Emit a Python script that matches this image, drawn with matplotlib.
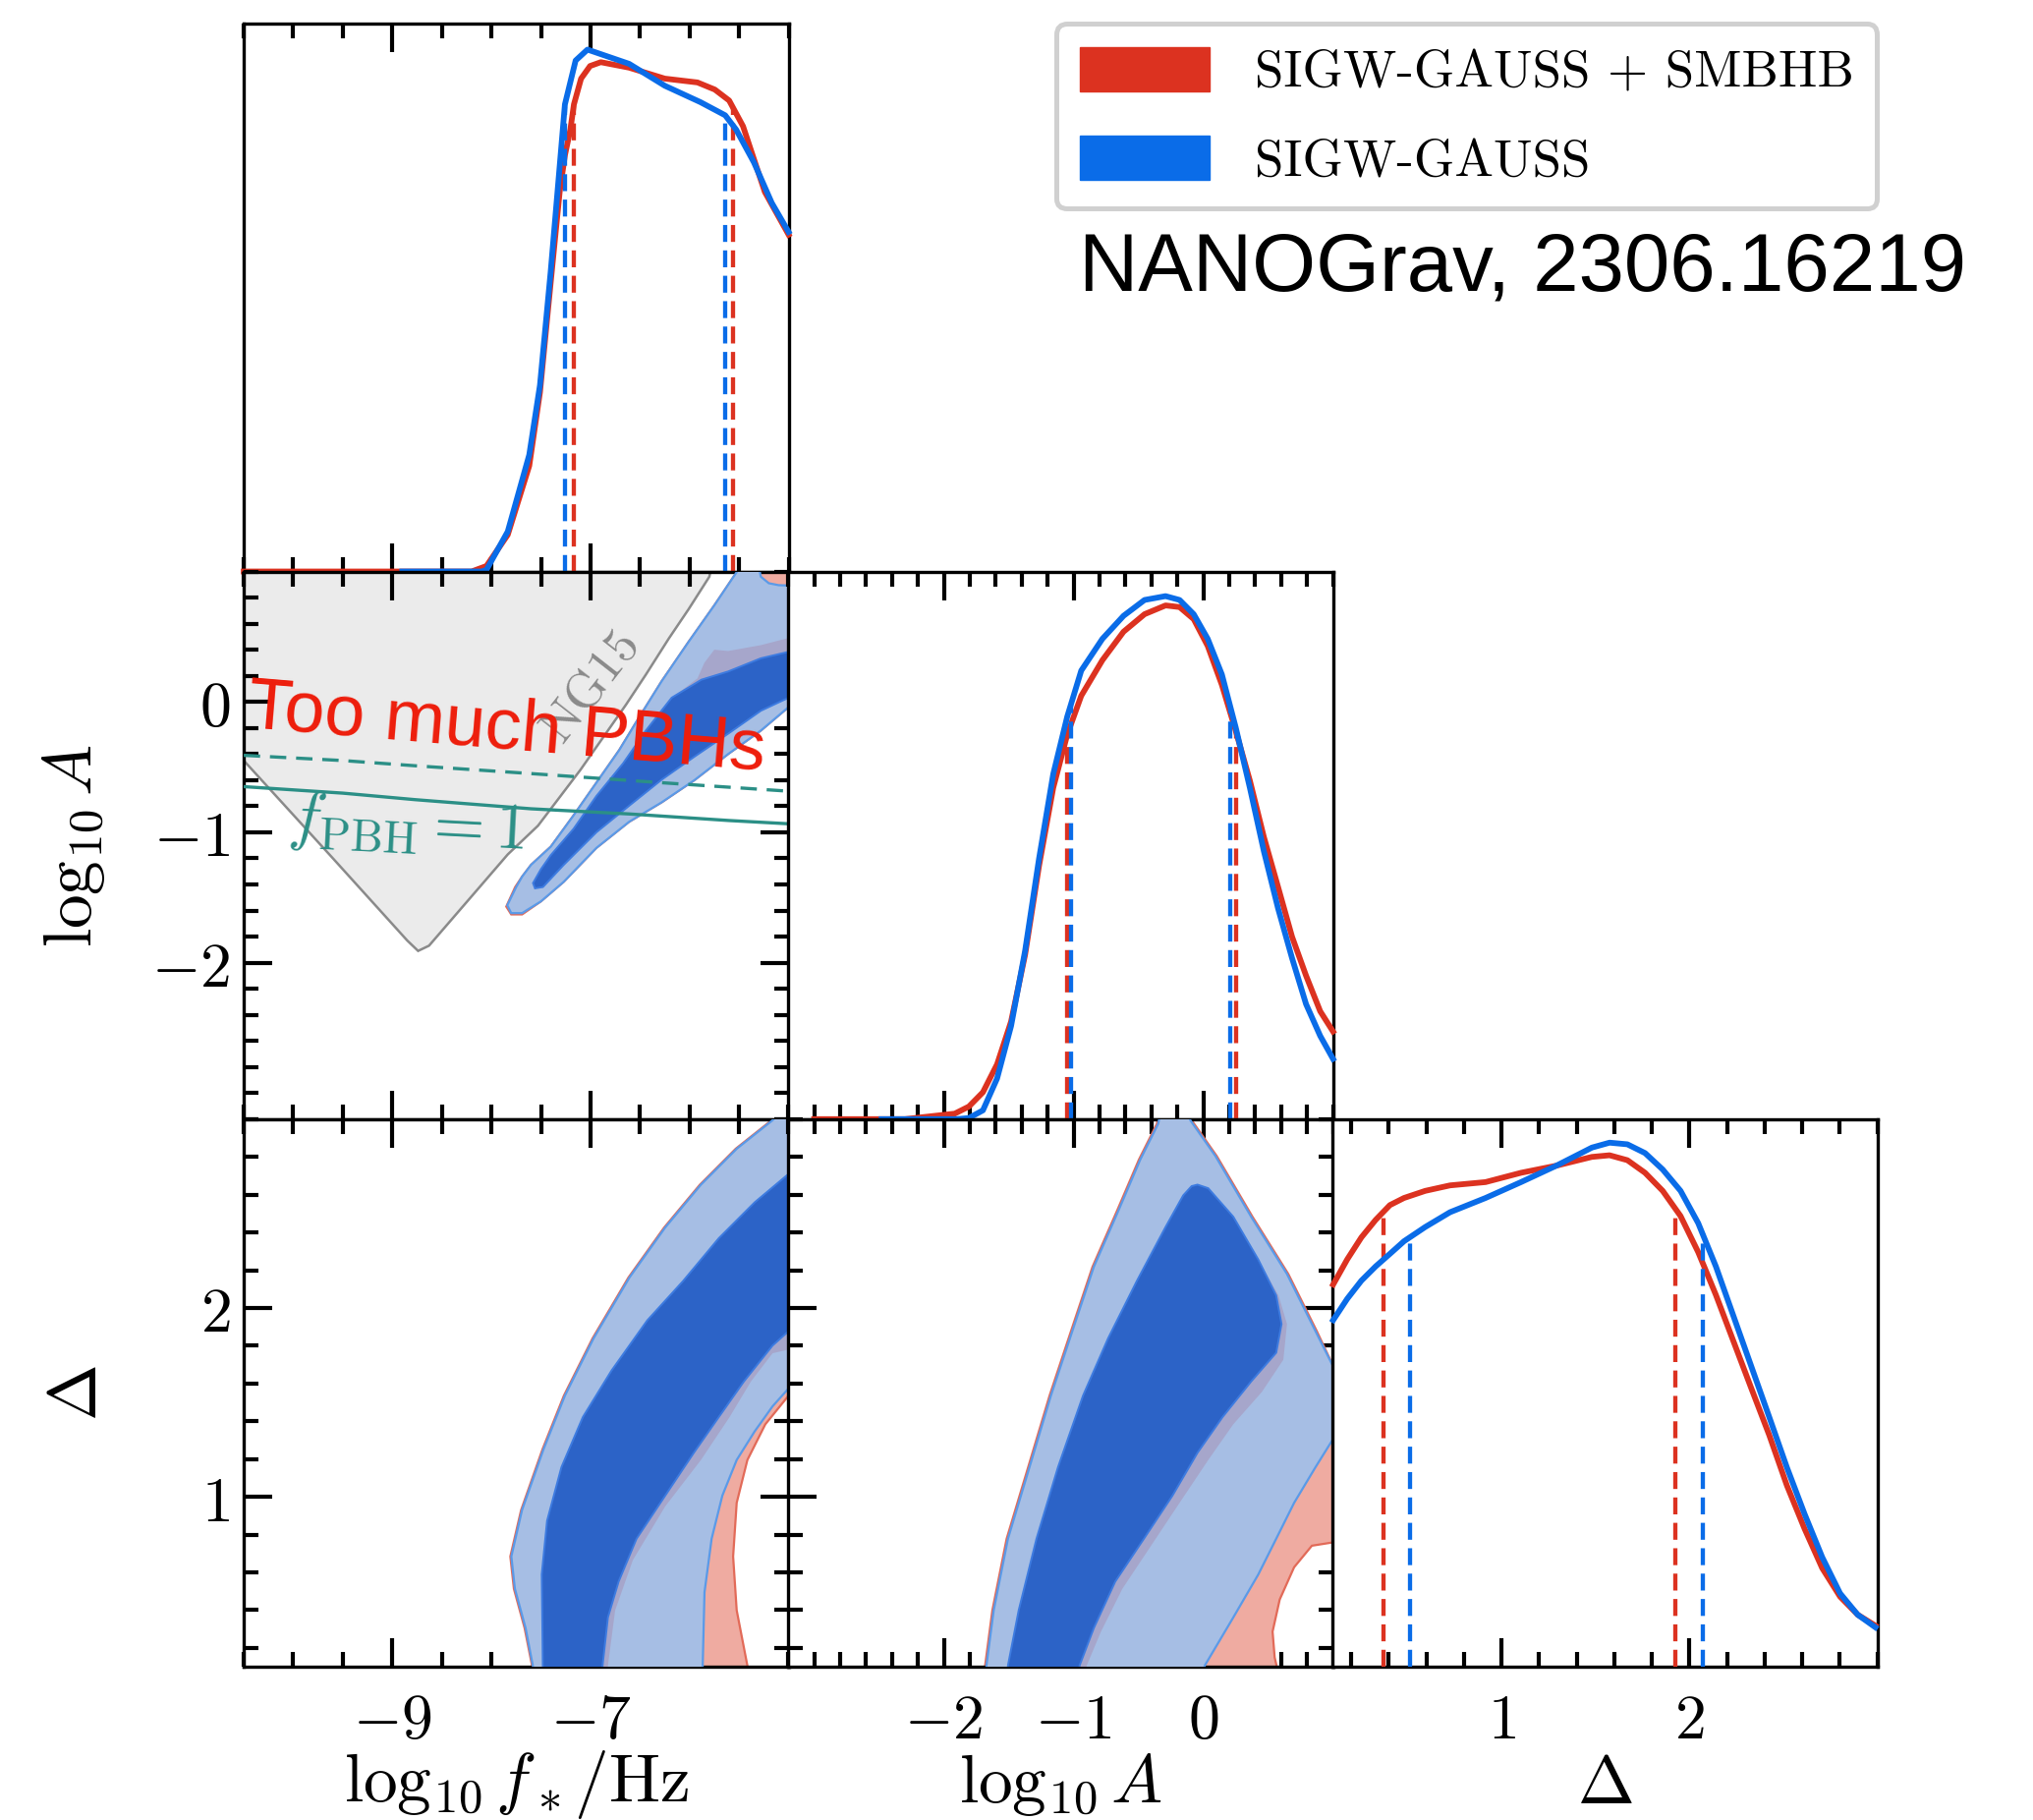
import matplotlib
matplotlib.use('Agg')
import matplotlib.pyplot as plt
import numpy as np
from matplotlib.patches import Patch, Polygon
from matplotlib.ticker import MultipleLocator

plt.rcParams['mathtext.fontset'] = 'cm'
plt.rcParams['font.family'] = ['DejaVu Sans']

RED = '#dc3220'
BLUE = '#0a6ce8'
TEAL = '#2b8f86'

# parameter ranges
F_LIM = (-10.5, -5.0)
A_LIM = (-3.2, 1.0)
D_LIM = (0.1, 3.0)

# 1D marginals (normalised heights)
f_red_x = [-10.5, -8.2, -8.05, -7.835, -7.618, -7.51, -7.402, -7.311, -7.258, -7.203, -7.167,
           -7.095, -7.004, -6.896, -6.61, -6.25, -5.92, -5.745, -5.60, -5.46, -5.24, -5.0]
f_red_y = [0.0, 0.0, 0.01, 0.067, 0.193, 0.327, 0.527, 0.693, 0.76, 0.807, 0.853,
           0.90, 0.923, 0.93, 0.92, 0.90, 0.893, 0.88, 0.86, 0.813, 0.693, 0.615]
f_blue_x = [-8.9, -8.1, -8.05, -7.835, -7.618, -7.51, -7.402, -7.311, -7.258, -7.15, -7.03,
            -6.61, -6.25, -5.89, -5.64, -5.53, -5.35, -5.17, -5.0]
f_blue_y = [0.0, 0.0, 0.003, 0.073, 0.213, 0.34, 0.547, 0.74, 0.853, 0.933, 0.953,
            0.927, 0.887, 0.857, 0.833, 0.807, 0.747, 0.673, 0.62]
f_red_bounds = [-7.17, -5.56]
f_blue_bounds = [-7.26, -5.64]

a_red_x = [-3.0, -2.3, -1.916, -1.807, -1.699, -1.59, -1.482, -1.374, -1.266, -1.157, -1.049,
           -0.941, -0.778, -0.615, -0.453, -0.291, -0.183, -0.074, 0.034, 0.143, 0.25, 0.359,
           0.467, 0.576, 0.684, 0.792, 0.901, 1.0]
a_red_y = [0.0, 0.0, 0.01, 0.023, 0.049, 0.10, 0.178, 0.30, 0.463, 0.605, 0.702,
           0.773, 0.838, 0.89, 0.922, 0.938, 0.935, 0.913, 0.864, 0.793, 0.709, 0.618,
           0.515, 0.424, 0.333, 0.262, 0.197, 0.16]
a_blue_x = [-2.48, -1.9, -1.807, -1.699, -1.59, -1.482, -1.374, -1.266, -1.157, -1.049, -0.941,
            -0.778, -0.615, -0.453, -0.291, -0.183, -0.074, 0.034, 0.143, 0.25, 0.359, 0.467,
            0.576, 0.684, 0.792, 0.901, 1.0]
a_blue_y = [0.0, 0.0, 0.002, 0.016, 0.074, 0.17, 0.307, 0.476, 0.63, 0.735, 0.819,
            0.877, 0.919, 0.948, 0.955, 0.948, 0.922, 0.877, 0.812, 0.715, 0.605, 0.489,
            0.385, 0.294, 0.21, 0.152, 0.11]
a_red_bounds = [-1.049, 0.25]
a_blue_bounds = [-1.022, 0.21]

d_x = [0.104, 0.179, 0.254, 0.330, 0.406, 0.481, 0.594, 0.726, 0.915, 1.104, 1.292, 1.481,
       1.575, 1.670, 1.764, 1.858, 1.953, 2.047, 2.141, 2.236, 2.330, 2.425, 2.519, 2.613,
       2.707, 2.802, 2.896, 2.99]
d_red_y = [0.698, 0.744, 0.784, 0.816, 0.843, 0.856, 0.869, 0.879, 0.885, 0.902, 0.915, 0.931,
           0.934, 0.925, 0.902, 0.869, 0.823, 0.757, 0.679, 0.593, 0.508, 0.423, 0.331, 0.252,
           0.18, 0.128, 0.095, 0.075]
d_blue_y = [0.633, 0.672, 0.705, 0.731, 0.754, 0.777, 0.803, 0.830, 0.856, 0.885, 0.915, 0.948,
            0.957, 0.954, 0.938, 0.908, 0.869, 0.810, 0.731, 0.639, 0.548, 0.456, 0.364, 0.279,
            0.20, 0.134, 0.095, 0.072]
d_red_bounds = [0.373, 1.925]
d_blue_bounds = [0.513, 2.07]

# 2D credible regions (outer = 95%, inner = 68%)
fA_ng15 = [(-10.6, 1.1), (-10.6, -0.37), (-10.5, -0.45), (-9.6, -1.20), (-8.85, -1.83),
           (-8.74, -1.91), (-8.63, -1.87), (-7.835, -1.17), (-7.53, -0.95), (-7.30, -0.72),
           (-7.10, -0.52), (-6.87, -0.27), (-6.64, -0.02), (-6.44, 0.21), (-6.21, 0.485),
           (-6.01, 0.71), (-5.80, 0.96), (-5.76, 1.1)]
fA_red_outer = [(-7.85, -1.57), (-7.76, -1.42), (-7.69, -1.34), (-7.60, -1.25), (-7.40, -1.11),
                (-7.17, -0.87), (-6.94, -0.62), (-6.71, -0.37), (-6.51, -0.12), (-6.28, 0.16),
                (-6.01, 0.46), (-5.75, 0.74), (-5.52, 1.00), (-5.45, 1.10), (-4.9, 1.10),
                (-4.9, -0.03), (-5.0, -0.04), (-5.28, -0.22), (-5.61, -0.40), (-5.95, -0.60),
                (-6.28, -0.77), (-6.61, -0.92), (-6.94, -1.12), (-7.27, -1.38), (-7.50, -1.53),
                (-7.69, -1.63), (-7.80, -1.63)]
fA_blue_outer = [(-7.84, -1.56), (-7.75, -1.42), (-7.69, -1.34), (-7.60, -1.25), (-7.40, -1.11),
                 (-7.17, -0.87), (-6.94, -0.62), (-6.71, -0.37), (-6.51, -0.12), (-6.28, 0.16),
                 (-6.01, 0.46), (-5.75, 0.74), (-5.52, 1.00), (-5.45, 1.10), (-5.32, 1.10),
                 (-5.28, 0.96), (-5.20, 0.91), (-5.10, 0.895), (-4.9, 0.89), (-4.9, -0.03),
                 (-5.0, -0.04), (-5.28, -0.22), (-5.61, -0.40), (-5.95, -0.60), (-6.28, -0.77),
                 (-6.61, -0.92), (-6.94, -1.12), (-7.27, -1.38), (-7.50, -1.53), (-7.69, -1.62),
                 (-7.80, -1.62)]
fA_red_inner = [(-4.9, 0.50), (-5.0, 0.49), (-5.28, 0.435), (-5.61, 0.39), (-5.75, 0.40),
                (-5.85, 0.30), (-5.92, 0.18), (-6.18, 0.03), (-6.44, -0.22), (-6.67, -0.47),
                (-6.94, -0.72), (-7.17, -0.97), (-7.40, -1.175), (-7.50, -1.28), (-7.58, -1.39),
                (-7.56, -1.43), (-7.48, -1.42), (-7.27, -1.25), (-6.94, -1.0), (-6.61, -0.80),
                (-6.28, -0.60), (-5.95, -0.42), (-5.61, -0.245), (-5.28, -0.07), (-5.0, 0.03),
                (-4.9, 0.04)]
fA_blue_inner = [(-4.9, 0.39), (-5.0, 0.384), (-5.28, 0.334), (-5.61, 0.233), (-5.88, 0.17),
                 (-6.18, 0.032), (-6.44, -0.219), (-6.67, -0.471), (-6.94, -0.722), (-7.17, -0.973),
                 (-7.40, -1.175), (-7.50, -1.283), (-7.58, -1.39), (-7.56, -1.43), (-7.48, -1.42),
                 (-7.27, -1.25), (-6.94, -1.0), (-6.61, -0.797), (-6.28, -0.596), (-5.95, -0.42),
                 (-5.61, -0.244), (-5.28, -0.068), (-5.0, 0.032), (-4.9, 0.035)]
fpbh1_x = [-10.5, -9.5, -8.77, -7.6, -6.6, -5.6, -5.0]
fpbh1_y = [-0.65, -0.70, -0.75, -0.82, -0.86, -0.91, -0.935]
fpbh_lim_x = [-10.5, -9.5, -8.77, -7.6, -6.28, -5.0]
fpbh_lim_y = [-0.41, -0.45, -0.49, -0.55, -0.62, -0.685]

fD_red_outer = [(-7.58, 0.0), (-7.59, 0.106), (-7.665, 0.305), (-7.773, 0.513), (-7.809, 0.684),
                (-7.70, 0.93), (-7.484, 1.252), (-7.268, 1.536), (-6.979, 1.839), (-6.617, 2.161),
                (-6.256, 2.426), (-5.895, 2.653), (-5.534, 2.843), (-5.172, 2.994), (-4.9, 3.15),
                (-4.9, 1.55), (-5.0, 1.536), (-5.235, 1.384), (-5.416, 1.195), (-5.524, 0.968),
                (-5.56, 0.684), (-5.524, 0.399), (-5.416, 0.106), (-5.40, 0.0)]
fD_blue_outer = [(-7.58, 0.0), (-7.582, 0.106), (-7.655, 0.305), (-7.763, 0.513), (-7.799, 0.684),
                 (-7.691, 0.93), (-7.474, 1.252), (-7.258, 1.536), (-6.969, 1.839), (-6.607, 2.161),
                 (-6.246, 2.426), (-5.885, 2.653), (-5.524, 2.843), (-5.162, 2.994), (-4.9, 3.15),
                 (-4.9, 1.60), (-5.0, 1.574), (-5.162, 1.479), (-5.343, 1.346), (-5.524, 1.195),
                 (-5.669, 1.006), (-5.777, 0.778), (-5.849, 0.494), (-5.867, 0.106), (-5.87, 0.0)]
fD_red_inner = [(-7.48, 0.0), (-7.481, 0.106), (-7.492, 0.589), (-7.438, 0.873), (-7.293, 1.157),
                (-7.077, 1.422), (-6.788, 1.668), (-6.427, 1.934), (-6.066, 2.142), (-5.705, 2.369),
                (-5.343, 2.559), (-5.0, 2.71), (-4.9, 2.76), (-4.9, 1.78), (-5.0, 1.78),
                (-5.162, 1.76), (-5.38, 1.611), (-5.596, 1.422), (-5.885, 1.195), (-6.246, 0.949),
                (-6.572, 0.665), (-6.751, 0.399), (-6.824, 0.106), (-6.83, 0.0)]
fD_blue_inner = [(-7.48, 0.0), (-7.481, 0.106), (-7.492, 0.589), (-7.438, 0.873), (-7.293, 1.157),
                 (-7.077, 1.422), (-6.788, 1.668), (-6.427, 1.934), (-6.066, 2.142), (-5.705, 2.369),
                 (-5.343, 2.559), (-5.0, 2.71), (-4.9, 2.76), (-4.9, 1.90), (-5.0, 1.877),
                 (-5.162, 1.801), (-5.451, 1.611), (-5.705, 1.422), (-5.957, 1.233), (-6.246, 1.006),
                 (-6.535, 0.778), (-6.716, 0.551), (-6.824, 0.361), (-6.878, 0.106), (-6.88, 0.0)]

AD_red_outer = [(-1.69, 0.0), (-1.682, 0.106), (-1.626, 0.399), (-1.516, 0.778), (-1.35, 1.157),
                (-1.185, 1.536), (-1.02, 1.877), (-0.854, 2.218), (-0.661, 2.521), (-0.496, 2.786),
                (-0.358, 2.975), (-0.32, 3.1), (-0.11, 3.1), (-0.09, 2.994), (0.103, 2.805),
                (0.379, 2.483), (0.655, 2.18), (0.875, 1.877), (1.003, 1.69), (1.1, 1.62),
                (1.1, 0.75), (1.003, 0.759), (0.837, 0.741), (0.70, 0.627), (0.589, 0.456),
                (0.534, 0.286), (0.55, 0.15), (0.60, 0.0)]
AD_blue_outer = [(-1.68, 0.0), (-1.672, 0.106), (-1.616, 0.399), (-1.506, 0.778), (-1.34, 1.157),
                 (-1.175, 1.536), (-1.01, 1.877), (-0.844, 2.218), (-0.651, 2.521), (-0.486, 2.786),
                 (-0.348, 2.975), (-0.31, 3.1), (-0.12, 3.1), (-0.1, 2.994), (0.093, 2.805),
                 (0.369, 2.483), (0.645, 2.18), (0.865, 1.877), (1.003, 1.6875), (1.1, 1.62),
                 (1.1, 1.30), (1.003, 1.309), (0.865, 1.157), (0.70, 0.968), (0.562, 0.778),
                 (0.424, 0.589), (0.231, 0.361), (0.011, 0.106), (0.0, 0.0)]
AD_red_inner = [(-1.51, 0.0), (-1.506, 0.106), (-1.423, 0.399), (-1.286, 0.778), (-1.12, 1.157),
                (-0.927, 1.536), (-0.734, 1.839), (-0.513, 2.142), (-0.293, 2.426), (-0.155, 2.596),
                (-0.09, 2.645), (-0.045, 2.653), (0.038, 2.634), (0.231, 2.483), (0.424, 2.256),
                (0.58, 2.066), (0.645, 1.915), (0.617, 1.726), (0.451, 1.555), (0.231, 1.384),
                (0.038, 1.195), (-0.183, 0.968), (-0.403, 0.741), (-0.624, 0.513), (-0.789, 0.286),
                (-0.899, 0.106), (-0.91, 0.0)]
AD_blue_inner = [(-1.51, 0.0), (-1.506, 0.106), (-1.423, 0.399), (-1.286, 0.778), (-1.12, 1.157),
                 (-0.927, 1.536), (-0.734, 1.839), (-0.513, 2.142), (-0.293, 2.426), (-0.155, 2.596),
                 (-0.09, 2.645), (-0.045, 2.653), (0.038, 2.634), (0.231, 2.483), (0.424, 2.256),
                 (0.562, 2.066), (0.603, 1.915), (0.562, 1.763), (0.369, 1.611), (0.148, 1.422),
                 (-0.045, 1.233), (-0.238, 1.006), (-0.458, 0.778), (-0.679, 0.551), (-0.844, 0.305),
                 (-0.954, 0.106), (-0.96, 0.0)]

LEGEND_LABELS = ['SIGW-GAUSS + SMBHB', 'SIGW-GAUSS']

C_RED_OUT, C_RED_IN = '#efaba1', '#a6a6cb'
C_BLUE_OUT, C_BLUE_IN = '#a6bee4', '#2c63c7'

TICK_FS = 46
LABEL_FS = 50


def style_axis(ax, twod=True):
    ax.tick_params(which='both', direction='in', top=True, bottom=True,
                   left=twod, right=twod, labelbottom=False, labelleft=False)
    ax.tick_params(which='major', length=21, width=3, labelsize=TICK_FS)
    ax.tick_params(which='minor', length=11, width=3)
    ax.tick_params(axis='x', which='major', pad=17)
    ax.tick_params(axis='y', which='major', pad=10)
    for sp in ax.spines.values():
        sp.set_linewidth(2.4)


def set_xgrid(ax, lim, majors):
    ax.set_xlim(*lim)
    ax.set_xticks(majors)
    ax.xaxis.set_minor_locator(MultipleLocator(0.5 if lim == F_LIM else 0.2))


def set_ygrid(ax, lim, majors):
    ax.set_ylim(*lim)
    ax.set_yticks(majors)
    ax.yaxis.set_minor_locator(MultipleLocator(0.2))


def draw_1d(ax, xr, yr, xb, yb, rb, bb):
    ax.plot(xr, yr, color=RED, lw=4.2, clip_on=False, zorder=3, solid_joinstyle='round')
    ax.plot(xb, yb, color=BLUE, lw=4.2, clip_on=False, zorder=4, solid_joinstyle='round')
    for v in rb:
        ax.plot([v, v], [0, np.interp(v, xr, yr)], color=RED, lw=3.1,
                ls=(0, (4.0, 2.0)), zorder=3)
    for v in bb:
        ax.plot([v, v], [0, np.interp(v, xb, yb)], color=BLUE, lw=3.1,
                ls=(0, (4.0, 2.0)), zorder=3)
    ax.set_ylim(0, 1.0)


def draw_2d(ax, red_out, blue_out, red_in, blue_in):
    ax.add_patch(Polygon(red_out, closed=True, fc=C_RED_OUT, ec='#e26a58', lw=1.6, zorder=2))
    ax.add_patch(Polygon(blue_out, closed=True, fc=C_BLUE_OUT, ec='#5a9ae8', lw=1.6, zorder=3))
    ax.add_patch(Polygon(red_in, closed=True, fc=C_RED_IN, ec='none', zorder=4))
    ax.add_patch(Polygon(blue_in, closed=True, fc=C_BLUE_IN, ec='#3d7be0', lw=1.4, zorder=5))


fig = plt.figure(figsize=(20.69, 18.52), dpi=100)
W, H = 0.2680, 0.3009
lefts = [0.1199, 0.3877, 0.6554]
bottoms = [0.6860, 0.3851, 0.0842]

ax_f = fig.add_axes([lefts[0], bottoms[0], W, H])
ax_fA = fig.add_axes([lefts[0], bottoms[1], W, H])
ax_A = fig.add_axes([lefts[1], bottoms[1], W, H])
ax_fD = fig.add_axes([lefts[0], bottoms[2], W, H])
ax_AD = fig.add_axes([lefts[1], bottoms[2], W, H])
ax_D = fig.add_axes([lefts[2], bottoms[2], W, H])

# diagonal: marginal posteriors
draw_1d(ax_f, f_red_x, f_red_y, f_blue_x, f_blue_y, f_red_bounds, f_blue_bounds)
draw_1d(ax_A, a_red_x, a_red_y, a_blue_x, a_blue_y, a_red_bounds, a_blue_bounds)
draw_1d(ax_D, d_x, d_red_y, d_x, d_blue_y, d_red_bounds, d_blue_bounds)
for ax in (ax_f, ax_A, ax_D):
    style_axis(ax, twod=False)
    ax.set_yticks([])
set_xgrid(ax_f, F_LIM, [-9, -7])
set_xgrid(ax_A, A_LIM, [-2, -1, 0])
set_xgrid(ax_D, D_LIM, [1, 2])

# log f - log A panel with the NG15 overproduction region
ax_fA.add_patch(Polygon(fA_ng15, closed=True, fc='#ebebeb', ec='#8a8a8a', lw=1.8, zorder=1))
draw_2d(ax_fA, fA_red_outer, fA_blue_outer, fA_red_inner, fA_blue_inner)
ax_fA.plot(fpbh_lim_x, fpbh_lim_y, color=TEAL, lw=2.4, ls=(0, (5, 3)), zorder=6)
ax_fA.plot(fpbh1_x, fpbh1_y, color=TEAL, lw=2.4, zorder=6)
ax_fA.text(-7.0, 0.11, r'$\mathrm{NG15}$', rotation=52, ha='center', va='center',
           fontsize=37, color='#8a8a8a', zorder=6)
ax_fA.text(-10.07, -1.03, r'$f_{\mathrm{PBH}}=1$', rotation=-3, rotation_mode='anchor',
           ha='left', va='baseline', fontsize=48, color=TEAL, zorder=6)
ax_fA.text(-10.47, -0.19, 'Too much PBHs', rotation=-4.8, rotation_mode='anchor',
           ha='left', va='baseline', fontsize=53, color='#ee1d0b',
           family='Liberation Sans', zorder=8)

draw_2d(ax_fD, fD_red_outer, fD_blue_outer, fD_red_inner, fD_blue_inner)
draw_2d(ax_AD, AD_red_outer, AD_blue_outer, AD_red_inner, AD_blue_inner)

for ax in (ax_fA, ax_fD, ax_AD):
    style_axis(ax, twod=True)
set_xgrid(ax_fA, F_LIM, [-9, -7])
set_ygrid(ax_fA, A_LIM, [-2, -1, 0])
set_xgrid(ax_fD, F_LIM, [-9, -7])
set_ygrid(ax_fD, D_LIM, [1, 2])
set_xgrid(ax_AD, A_LIM, [-2, -1, 0])
set_ygrid(ax_AD, D_LIM, [1, 2])

# outer tick labels and axis titles
ax_fA.tick_params(labelleft=True)
ax_fA.set_yticklabels([r'$-2$', r'$-1$', r'$0$'])
ax_fD.tick_params(labelleft=True, labelbottom=True)
ax_fD.set_yticklabels([r'$1$', r'$2$'])
ax_fD.set_xticklabels([r'$-9$', r'$-7$'])
ax_AD.tick_params(labelbottom=True)
ax_AD.set_xticklabels([r'$-2$', r'$-1$', r'$0$'])
ax_D.tick_params(labelbottom=True)
ax_D.set_xticklabels([r'$1$', r'$2$'])

ax_fA.set_ylabel(r'$\log_{10}A$', fontsize=LABEL_FS)
ax_fD.set_ylabel(r'$\Delta$', fontsize=LABEL_FS)
for ax, xpos in ((ax_fA, -0.312), (ax_fD, -0.305)):
    ax.yaxis.label.set_va('center')
    ax.yaxis.set_label_coords(xpos, 0.5)
for ax, lab in ((ax_fD, r'$\log_{10}f_*/\mathrm{Hz}$'), (ax_AD, r'$\log_{10}A$'), (ax_D, r'$\Delta$')):
    ax.set_xlabel(lab, fontsize=LABEL_FS)
    ax.xaxis.label.set_va('center')
    ax.xaxis.set_label_coords(0.5, -0.215)

handles = [Patch(color=RED), Patch(color=BLUE)]
leg = fig.legend(handles, LEGEND_LABELS, loc='upper left',
                 bbox_to_anchor=(1075 / 2069, 1 - 24 / 1852), borderaxespad=0,
                 prop={'family': 'cmr10', 'size': 38}, handlelength=2.5, handleheight=0.93,
                 handletextpad=0.87, labelspacing=0.75, borderpad=0.45,
                 fancybox=True, framealpha=1, edgecolor='#d0d0d0')
leg.get_frame().set_linewidth(3.6)

fig.text(1098 / 2069, 1 - 296 / 1852, 'NANOGrav, 2306.16219', family='Liberation Sans',
         fontsize=60, ha='left', va='baseline')

fig.savefig('out.png', dpi=100, facecolor='white')
